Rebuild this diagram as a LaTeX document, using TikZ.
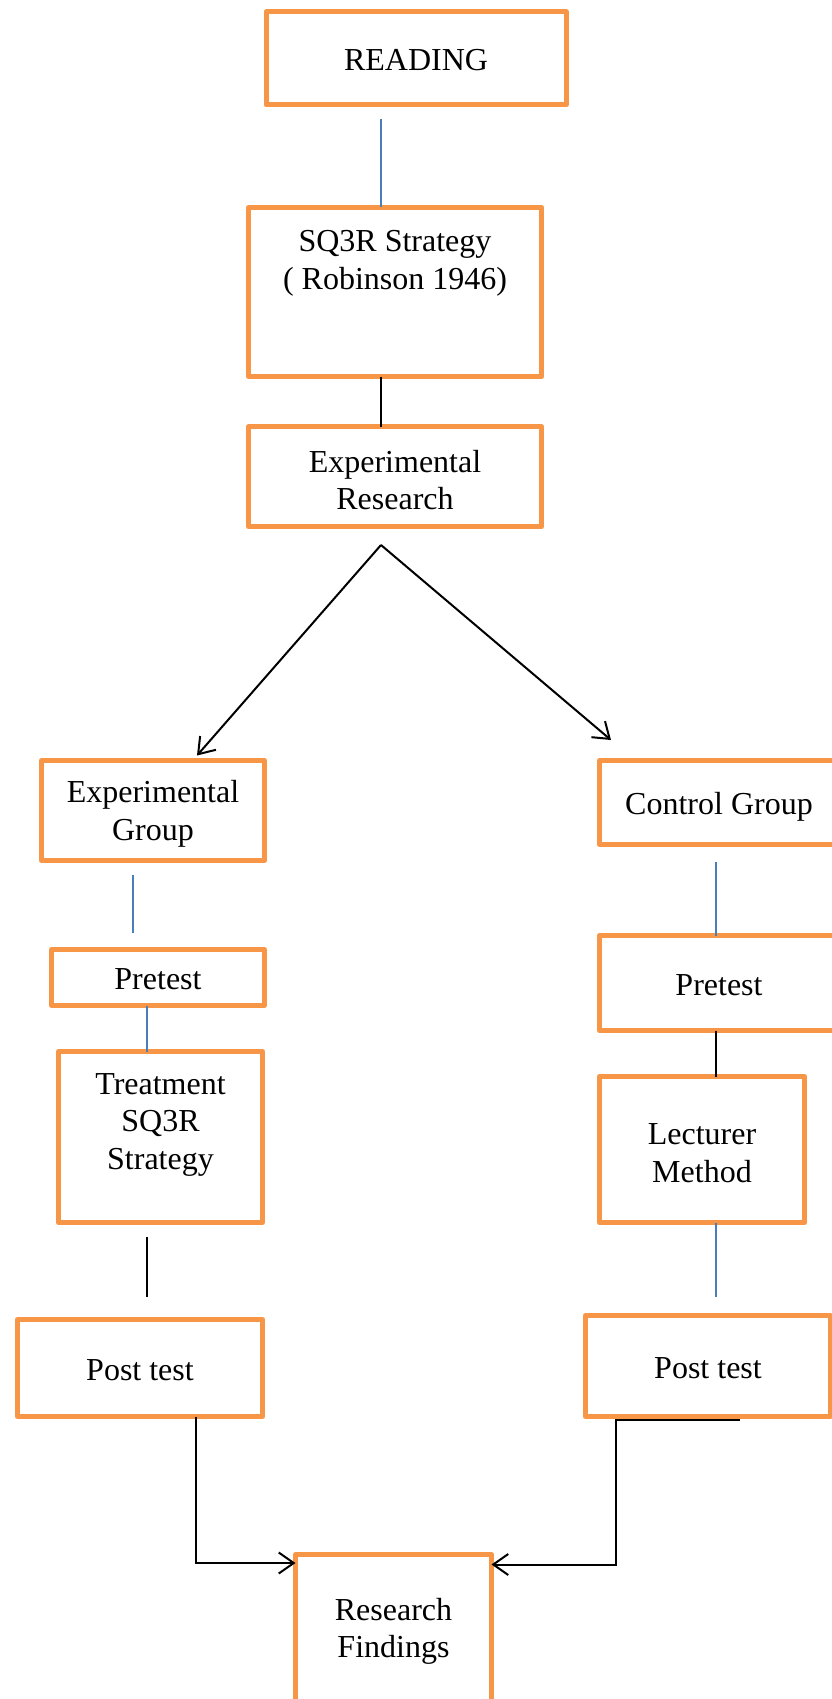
\documentclass[tikz,border=0pt]{standalone}
\usepackage{fontspec}
\setmainfont{Liberation Serif}
\usepackage{xcolor}
\usetikzlibrary{arrows.meta}
\definecolor{boxorange}{HTML}{F79646}
\definecolor{linkblue}{HTML}{4A7EBB}

\begin{document}
\begin{tikzpicture}[x=1pt, y=-1pt,
    box/.style={draw=boxorange, line width=5pt, line join=round, inner sep=0pt,
      outer sep=0pt, text height=29pt, text depth=5pt,
      font=\fontsize{32}{37.5}\selectfont},
    lbl/.style={inner sep=0pt, align=center, font=\fontsize{32}{37.5}\selectfont},
    blueln/.style={linkblue, line width=1.5pt},
    blackln/.style={black, line width=2pt},
    arr/.style={black, line width=2pt, -{Straight Barb[length=15pt, width=21pt]}}]
    \useasboundingbox (0,0) rectangle (831,1699);
    % Top of the chain
    \node[box, minimum width=300pt, minimum height=93pt] (reading) at (416,58.5) {READING};
    \node[box, minimum width=293pt, minimum height=169pt] (sq3r) at (395,292) {};
    \node[lbl] (sq3r-t) at (395,263.5) {SQ3R Strategy\\( Robinson 1946)};
    \node[box, minimum width=293pt, minimum height=100pt] (expres) at (395,476.5) {};
    \node[lbl] (expres-t) at (395,480) {Experimental\\Research};
    % Left branch
    \node[box, minimum width=223pt, minimum height=100pt] (expgrp) at (153,810.5) {};
    \node[lbl] (expgrp-t) at (153,814) {Experimental\\Group};
    \node[box, minimum width=213pt, minimum height=56pt] (lpre) at (158,977.5) {Pretest};
    \node[box, minimum width=204pt, minimum height=171pt] (treat) at (160.5,1137) {};
    \node[lbl] (treat-t) at (160.5,1124.5) {Treatment\\SQ3R\\Strategy};
    \node[box, minimum width=245pt, minimum height=97pt] (lpost) at (140,1368) {Post test};
    % Right branch
    \node[box, minimum width=239pt, minimum height=84pt] (ctrlgrp) at (719,802.5)
      {Control Group};
    \node[box, minimum width=239pt, minimum height=95pt] (rpre) at (719,983) {Pretest};
    \node[box, minimum width=205pt, minimum height=146pt] (lect) at (702,1149.5) {};
    \node[lbl] (lect-t) at (702,1153) {Lecturer\\Method};
    \node[box, minimum width=245pt, minimum height=101pt] (rpost) at (708,1366) {Post test};
    % Bottom
    \node[box, minimum width=196pt, minimum height=150.5pt] (findings) at (393.5,1629.75) {};
    \node[lbl] (findings-t) at (393.5,1631.5) {Research\\Findings};

    % Links down the middle
    \draw[blueln] ([xshift=-35pt, yshift=-14pt]reading.south) -- ([xshift=-14pt]sq3r.north);
    \draw[blackln] ([xshift=-14pt]sq3r.south) -- ([xshift=-14pt]expres.north);
    \coordinate (fork) at ([xshift=-14pt, yshift=-18.5pt]expres.south);
    \draw[arr] (fork) -- ([xshift=44pt, yshift=5pt]expgrp.north);
    \draw[arr] (fork) -- ([xshift=-108pt, yshift=20.5pt]ctrlgrp.north);
    % Left links
    \draw[blueln] ([xshift=-20pt, yshift=-14.5pt]expgrp.south)
      -- ([xshift=-25pt, yshift=16.5pt]lpre.north);
    \draw[blueln] ([xshift=-11pt]lpre.south) -- ([xshift=-13.5pt]treat.north);
    \draw[blackln] ([xshift=-13.5pt, yshift=-14.5pt]treat.south)
      -- ([xshift=7pt, yshift=22.5pt]lpost.north);
    % Right links
    \draw[blueln] ([xshift=-3pt, yshift=-17.5pt]ctrlgrp.south) -- ([xshift=-3pt]rpre.north);
    \draw[blackln] ([xshift=-3pt]rpre.south) -- ([xshift=14pt]lect.north);
    \draw[blueln] ([xshift=14pt]lect.south) -- ([xshift=8pt, yshift=18.5pt]rpost.north);
    % Into the findings
    \draw[arr] ([xshift=56pt]lpost.south) |- ([yshift=-8.5pt]findings.north west);
    \draw[arr] ([xshift=32pt, yshift=-3.5pt]rpost.south)
      -- ([xshift=-92pt, yshift=-3.5pt]rpost.south)
      |- ([yshift=-10pt]findings.north east);
\end{tikzpicture}
\end{document}
